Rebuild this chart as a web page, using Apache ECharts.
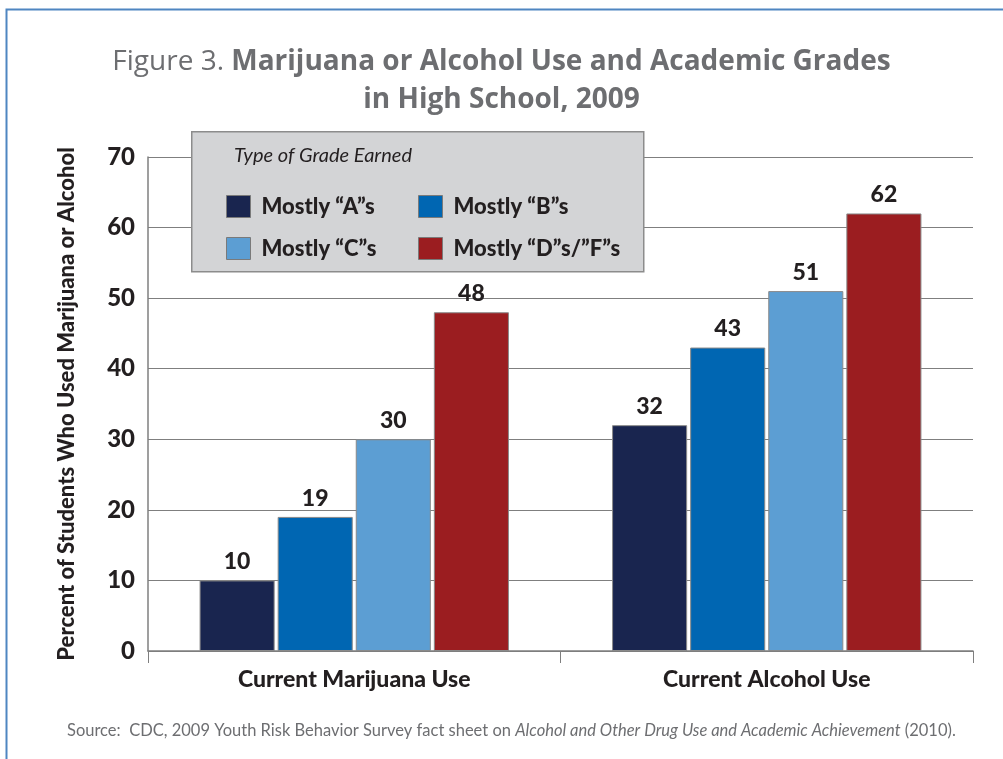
<!DOCTYPE html>
<html><head><meta charset="utf-8">
<script src="https://cdn.jsdelivr.net/npm/echarts@6/dist/echarts.min.js"></script>
<style>html,body{margin:0;padding:0;background:#fff}#c{width:1003px;height:759px}</style>
</head><body><div id="c"></div>
<script>
var categories = ['Current Marijuana Use', 'Current Alcohol Use'];
var seriesNames = ['Mostly \u201CA\u201Ds', 'Mostly \u201CB\u201Ds', 'Mostly \u201CC\u201Ds', 'Mostly \u201CD\u201Ds/\u201DF\u201Ds'];
var mostlyA = [10, 32];
var mostlyB = [19, 43];
var mostlyC = [30, 51];
var mostlyDF = [48, 62];
var yTicks = [0, 10, 20, 30, 40, 50, 60, 70];

var colors = ['#19254f', '#0066b2', '#5c9ed3', '#9b1d20'];
var COND = 'Lato, "Liberation Sans Narrow", sans-serif';
var HEAVY = 900;
var values = [mostlyA, mostlyB, mostlyC, mostlyDF];

var chart = echarts.init(document.getElementById('c'), null, {renderer: 'canvas'});
var series = seriesNames.map(function (n, i) {
  return {
    name: n, type: 'bar', data: values[i],
    barGap: '4%', barCategoryGap: '25%',
    itemStyle: {color: colors[i], borderColor: '#8a8a8a', borderWidth: 1},
    label: {show: true, position: 'top', distance: 7, color: '#231f20',
      fontFamily: COND, fontWeight: HEAVY, fontSize: 23}
  };
});

chart.setOption({
  animation: false,
  backgroundColor: '#fff',
  title: {
    left: 'center', top: 38,
    text: '{r|Figure 3. }{b|Marijuana or Alcohol Use and Academic Grades}\n{b|in High School, 2009}',
    textStyle: {
      rich: {
        r: {fontFamily: '"Open Sans",sans-serif', fontSize: 28, color: '#6d6e71', fontWeight: 'normal', lineHeight: 38},
        b: {fontFamily: '"Open Sans",sans-serif', fontSize: 28, color: '#6d6e71', fontWeight: 'bold', lineHeight: 38}
      }
    }
  },
  grid: {left: 148, right: 30, top: 157, bottom: 108, containLabel: false},
  xAxis: {
    type: 'category', data: categories,
    axisLine: {show: true, lineStyle: {color: '#7f7f7f', width: 1.5}},
    axisTick: {show: true, length: 12, lineStyle: {color: '#7f7f7f'}},
    axisLabel: {color: '#231f20', fontFamily: COND, fontWeight: HEAVY, fontSize: 23, margin: 17}
  },
  yAxis: {
    type: 'value', min: 0, max: 70, interval: 10,
    name: 'Percent of Students Who Used Marijuana or Alcohol',
    nameLocation: 'middle', nameGap: 70, nameRotate: 90,
    nameTextStyle: {color: '#231f20', fontFamily: COND, fontWeight: HEAVY, fontSize: 22},
    axisLine: {show: true, lineStyle: {color: '#7f7f7f', width: 1.5}},
    axisTick: {show: false},
    axisLabel: {color: '#231f20', fontFamily: COND, fontWeight: HEAVY, fontSize: 24, margin: 13,
      formatter: function (v) { return yTicks.indexOf(v) >= 0 ? String(v) : ''; }},
    splitLine: {show: true, lineStyle: {color: '#7f7f7f', width: 1.2}}
  },
  legend: [
    {data: [seriesNames[0], seriesNames[2]], orient: 'vertical', left: 221, top: 190, z: 10,
      itemWidth: 24, itemHeight: 22, itemGap: 19, icon: 'rect',
      itemStyle: {borderColor: '#7a7a7a', borderWidth: 1},
      textStyle: {color: '#231f20', fontFamily: COND, fontWeight: HEAVY, fontSize: 22, padding: [0, 0, 0, 6]}},
    {data: [seriesNames[1], seriesNames[3]], orient: 'vertical', left: 413, top: 190, z: 10,
      itemWidth: 24, itemHeight: 22, itemGap: 19, icon: 'rect',
      itemStyle: {borderColor: '#7a7a7a', borderWidth: 1},
      textStyle: {color: '#231f20', fontFamily: COND, fontWeight: HEAVY, fontSize: 22, padding: [0, 0, 0, 6]}}
  ],
  graphic: [
    {type: 'rect', left: 4, top: 7, z: -10, silent: true,
      shape: {width: 1010, height: 770}, style: {fill: 'none', stroke: '#4f86c1', lineWidth: 2}},
    {type: 'rect', left: 191, top: 131, z: 3, silent: true,
      shape: {width: 452, height: 140}, style: {fill: '#d3d4d6', stroke: '#8c8c8c', lineWidth: 1.5}},
    {type: 'text', left: 234, top: 146, z: 11, silent: true,
      style: {text: 'Type of Grade Earned', fill: '#231f20', fontFamily: COND, fontStyle: 'italic', fontSize: 20}},
    {type: 'text', left: 67, top: 722, silent: true,
      style: {
        text: '{n|Source:  CDC, 2009 Youth Risk Behavior Survey fact sheet on }{i|Alcohol and Other Drug Use and Academic Achievement}{n| (2010).}',
        rich: {
          n: {fontFamily: COND, fontSize: 16.5, fill: '#6d6e71', color: '#6d6e71'},
          i: {fontFamily: COND, fontSize: 16.5, fontStyle: 'italic', fill: '#6d6e71', color: '#6d6e71'}
        }
      }}
  ],
  series: series
});
</script></body></html>
